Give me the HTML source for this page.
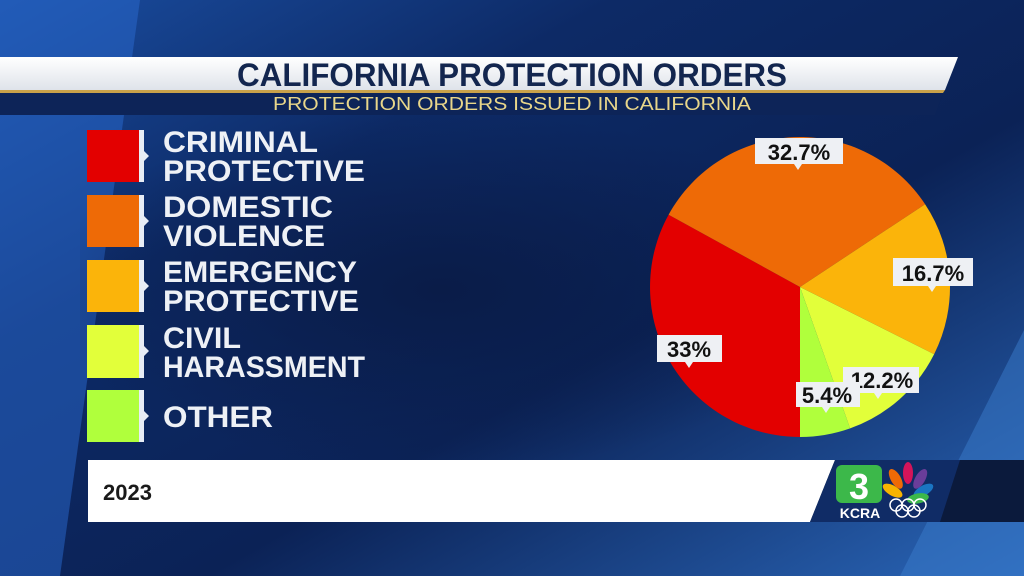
<!DOCTYPE html>
<html><head><meta charset="utf-8"><style>
html,body{margin:0;padding:0;width:1024px;height:576px;overflow:hidden;background:#0c2558}
svg{display:block}
text{font-family:"Liberation Sans",sans-serif;font-weight:bold}
text.n{font-weight:normal}
</style></head><body>
<svg width="1024" height="576" viewBox="0 0 1024 576">
<defs>
<linearGradient id="bg" x1="0" y1="0" x2="1" y2="1">
<stop offset="0" stop-color="#1a4da0"/><stop offset="0.3" stop-color="#0d2a66"/><stop offset="0.6" stop-color="#0b2256"/><stop offset="1" stop-color="#2a66b8"/>
</linearGradient>
<linearGradient id="wb" x1="0" y1="0" x2="0" y2="1">
<stop offset="0" stop-color="#ffffff"/><stop offset="1" stop-color="#dfe3ea"/>
</linearGradient>
<radialGradient id="dk" cx="0.45" cy="0.5" r="0.5"><stop offset="0" stop-color="#0a1c48"/><stop offset="1" stop-color="#0a1c48" stop-opacity="0"/></radialGradient>
</defs>
<rect width="1024" height="576" fill="url(#bg)"/>
<polygon points="0,0 140,0 60,576 0,576" fill="#2a6ad0" opacity="0.5"/>
<polygon points="900,576 1024,330 1024,576" fill="#3a7ccc" opacity="0.5"/>
<rect x="80" y="110" width="800" height="360" fill="url(#dk)"/>
<polygon points="0,57 958,57 945,90 0,90" fill="url(#wb)"/>
<polygon points="0,90 945,90 943,93 0,93" fill="#c9a24a"/>
<polygon points="0,93 943,93 935,115 0,115" fill="#0d2458"/>
<text x="512" y="86" text-anchor="middle" font-size="32" fill="#13264f" textLength="550" lengthAdjust="spacingAndGlyphs">CALIFORNIA PROTECTION ORDERS</text>
<text class="n" x="512" y="110" text-anchor="middle" font-size="18" fill="#e8d68a" textLength="478" lengthAdjust="spacingAndGlyphs">PROTECTION ORDERS ISSUED IN CALIFORNIA</text>
<g>
<rect x="87" y="130" width="52" height="52" fill="#e30000"/>
<rect x="87" y="195" width="52" height="52" fill="#ee6a06"/>
<rect x="87" y="260" width="52" height="52" fill="#fbb40a"/>
<rect x="87" y="325" width="52" height="53" fill="#e2ff3a"/>
<rect x="87" y="390" width="52" height="52" fill="#b0ff3c"/>
<g fill="#e8edf5">
<polygon points="139,130 144,130 144,151 149,156 144,161 144,182 139,182"/>
<polygon points="139,195 144,195 144,216 149,221 144,226 144,247 139,247"/>
<polygon points="139,260 144,260 144,281 149,286 144,291 144,312 139,312"/>
<polygon points="139,325 144,325 144,346 149,351 144,356 144,378 139,378"/>
<polygon points="139,390 144,390 144,411 149,416 144,421 144,442 139,442"/>
</g>
<g fill="#eef1f6" font-size="30">
<text x="163" y="152" textLength="155" lengthAdjust="spacingAndGlyphs">CRIMINAL</text>
<text x="163" y="181" textLength="202" lengthAdjust="spacingAndGlyphs">PROTECTIVE</text>
<text x="163" y="217" textLength="170" lengthAdjust="spacingAndGlyphs">DOMESTIC</text>
<text x="163" y="246" textLength="162" lengthAdjust="spacingAndGlyphs">VIOLENCE</text>
<text x="163" y="282" textLength="194" lengthAdjust="spacingAndGlyphs">EMERGENCY</text>
<text x="163" y="311" textLength="196" lengthAdjust="spacingAndGlyphs">PROTECTIVE</text>
<text x="163" y="348" textLength="78" lengthAdjust="spacingAndGlyphs">CIVIL</text>
<text x="163" y="377" textLength="202" lengthAdjust="spacingAndGlyphs">HARASSMENT</text>
<text x="163" y="427" textLength="110" lengthAdjust="spacingAndGlyphs">OTHER</text>
</g>
</g>
<g>
<path d="M800,287 L800,437 A150,150 0 0 1 668.6,214.7 Z" fill="#e30000"/>
<path d="M800,287 L668.6,214.7 A150,150 0 0 1 925.1,204.2 Z" fill="#ee6a06"/>
<path d="M800,287 L925.1,204.2 A150,150 0 0 1 934.1,354.2 Z" fill="#fbb40a"/>
<path d="M800,287 L934.1,354.2 A150,150 0 0 1 850.1,428.4 Z" fill="#e2ff3a"/>
<path d="M800,287 L850.1,428.4 A150,150 0 0 1 800,437 Z" fill="#b0ff3c"/>
</g>
<g fill="#eef0f4">
<rect x="755" y="138" width="88" height="26"/><polygon points="794,164 802,164 798,170"/>
<rect x="893" y="258" width="80" height="28"/><polygon points="928,286 936,286 932,292"/>
<rect x="657" y="335" width="65" height="27"/><polygon points="685,362 693,362 689,368"/>
<rect x="843" y="367" width="76" height="26"/><polygon points="874,393 882,393 878,399"/>
</g>
<text x="882" y="388" text-anchor="middle" font-size="22" fill="#111">12.2%</text>
<rect x="796" y="382" width="64" height="25" fill="#eef0f4"/><polygon points="822,407 830,407 826,413" fill="#eef0f4"/>
<g fill="#111" font-size="22">
<text x="799" y="160" text-anchor="middle">32.7%</text>
<text x="933" y="281" text-anchor="middle">16.7%</text>
<text x="689" y="357" text-anchor="middle">33%</text>
<text x="827" y="403" text-anchor="middle">5.4%</text>
</g>
<polygon points="88,460 845,460 820,522 88,522" fill="#ffffff"/>
<text x="103" y="500" font-size="22" fill="#1a1a1a">2023</text>
<polygon points="835,460 1024,460 1024,522 810,522" fill="#0b1a3c"/>
<polygon points="835,460 960,460 940,522 810,522" fill="#102c66"/>
<rect x="836" y="465" width="46" height="38" rx="6" fill="#3cb84a"/>
<text x="859" y="499" text-anchor="middle" font-size="36" fill="#fff">3</text>
<text x="860" y="518" text-anchor="middle" font-size="14" fill="#fff">KCRA</text>
<g>
<ellipse cx="898" cy="476" rx="5" ry="11" fill="#f7b400" transform="rotate(-60 908 488)"/>
<ellipse cx="902" cy="474" rx="5" ry="11" fill="#ee6a06" transform="rotate(-30 908 488)"/>
<ellipse cx="908" cy="473" rx="5" ry="11" fill="#d4145a"/>
<ellipse cx="914" cy="474" rx="5" ry="11" fill="#6a3d9a" transform="rotate(30 908 488)"/>
<ellipse cx="918" cy="476" rx="5" ry="11" fill="#1a75c2" transform="rotate(60 908 488)"/>
<ellipse cx="920" cy="480" rx="5" ry="11" fill="#3cb84a" transform="rotate(80 908 488)"/>
</g>
<g fill="none" stroke="#fff" stroke-width="1.5">
<circle cx="896" cy="505" r="6"/><circle cx="908" cy="505" r="6"/><circle cx="920" cy="505" r="6"/>
<circle cx="902" cy="511" r="6"/><circle cx="914" cy="511" r="6"/>
</g>
</svg>
</body></html>
